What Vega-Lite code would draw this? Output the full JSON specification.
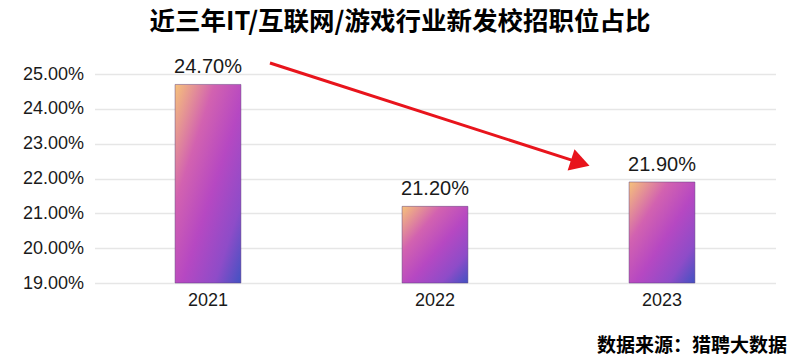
{
  "$schema": "https://vega.github.io/schema/vega-lite/v6.json",
  "width": 681,
  "height": 209,
  "autosize": {"type": "none"},
  "padding": {"left": 94.5, "top": 74, "right": 24.5, "bottom": 74},
  "background": "white",
  "config": {
    "view": {"stroke": null},
    "font": "Liberation Sans",
    "axis": {"labelOverlap": false},
    "axisY": {"labelOverlap": false, "tickCount": 7}
  },
  "title": {
    "text": "近三年IT/互联网/游戏行业新发校招职位占比",
    "font": "Noto Sans CJK SC",
    "fontSize": 25.5,
    "fontWeight": "bold",
    "color": "#000000",
    "anchor": "middle",
    "frame": "group",
    "dx": -35,
    "offset": 21
  },
  "layer": [
    {
      "data": {"values": [
        {"year": "2021", "pct": 0.247},
        {"year": "2022", "pct": 0.212},
        {"year": "2023", "pct": 0.219}
      ]},
      "encoding": {
        "x": {
          "field": "year", "type": "nominal",
          "scale": {"paddingInner": 0.71, "paddingOuter": 0.355},
          "axis": {
            "labelAngle": 0, "domain": false, "ticks": false,
            "labelFontSize": 18, "labelColor": "#1a1a1a", "labelPadding": 8,
            "title": "数据来源：猎聘大数据",
            "titleFont": "Noto Sans CJK SC", "titleFontSize": 19, "titleFontWeight": "bold",
            "titleColor": "#000000", "titleAnchor": "end", "titleAlign": "right",
            "titleX": 692, "titleY": 68, "titleBaseline": "alphabetic"
          }
        },
        "y": {
          "field": "pct", "type": "quantitative",
          "scale": {"domain": [0.19, 0.25], "zero": false, "nice": false},
          "axis": {
            "values": [0.19, 0.20, 0.21, 0.22, 0.23, 0.24, 0.25],
            "labelOverlap": false,
            "format": ".2%", "title": null, "domain": false, "ticks": false,
            "labelFontSize": 18, "labelColor": "#1a1a1a", "labelPadding": 11,
            "gridColor": "#e6e6e6", "gridWidth": 1.5
          }
        }
      },
      "layer": [
        {
          "mark": {
            "type": "bar",
            "stroke": "#5a3c7a", "strokeWidth": 0.8, "strokeOpacity": 0.6,
            "color": {
              "gradient": "linear", "x1": 0, "y1": 0, "x2": 1, "y2": 1,
              "stops": [
                {"offset": 0, "color": "#f6c27a"},
                {"offset": 0.3, "color": "#d262b0"},
                {"offset": 0.55, "color": "#b648c2"},
                {"offset": 0.8, "color": "#8e4cc8"},
                {"offset": 1, "color": "#4252c2"}
              ]
            }
          },
          "encoding": {"y2": {"datum": 0.19}}
        },
        {
          "mark": {"type": "text", "baseline": "alphabetic", "dy": -11, "fontSize": 20, "color": "#1a1a1a"},
          "encoding": {"text": {"field": "pct", "type": "quantitative", "format": ".2%"}}
        }
      ]
    },
    {
      "data": {"values": [
        {"xpos": 2021.273, "pct": 0.25316},
        {"xpos": 2022.64, "pct": 0.2245}
      ]},
      "encoding": {
        "x": {"field": "xpos", "type": "quantitative", "scale": {"domain": [2020.5, 2023.5], "nice": false, "zero": false}, "axis": null},
        "y": {"field": "pct", "type": "quantitative"}
      },
      "layer": [
        {"mark": {"type": "line", "color": "#e8141c", "strokeWidth": 3}},
        {
          "transform": [{"filter": "datum.xpos > 2022"}],
          "mark": {"type": "point", "shape": "triangle-right", "filled": true, "opacity": 1, "color": "#e8141c", "size": 500, "angle": 18}
        }
      ]
    }
  ],
  "resolve": {"scale": {"x": "independent"}}
}
